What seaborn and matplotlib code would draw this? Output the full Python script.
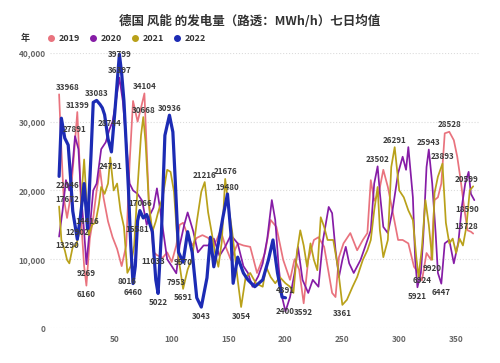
import pandas as pd
import matplotlib.pyplot as plt
import seaborn as sns
from matplotlib.lines import Line2D
from matplotlib.ticker import FuncFormatter

# 七日均值 (MWh/h)
d2019 = [1, 3, 5, 8, 11, 14, 17, 19, 21, 23, 25, 28, 31, 34, 37, 40, 44, 48, 52, 56,
         60, 63, 66, 70, 73, 76, 78, 80, 84, 87, 92, 96, 100, 104, 107, 110, 114, 118, 122, 127,
         132, 137, 140, 143, 147, 152, 158, 163, 169, 175, 182, 187, 192, 198, 204, 208, 212, 216, 220, 225,
         229, 234, 238, 241, 244, 247, 251, 257, 263, 268, 272, 275, 278, 282, 286, 290, 294, 299, 303, 308,
         313, 317, 320, 324, 328, 331, 334, 337, 340, 344, 348, 351, 354, 357, 360, 363, 365]
v2019 = [33968, 26000, 19000, 16000, 19000, 25000, 31399, 24000, 14000, 9000,
         6160, 13000, 16000, 20000, 23000, 19000, 15500, 13200, 11500, 9000,
         12000, 24000, 33000, 30000, 32000, 34104, 26000, 18000, 11033, 10600,
         10200, 11000, 9600, 12000, 15000, 15300, 13500, 12000, 13100, 13500,
         13100, 12000, 13000, 14200, 12000, 9900, 12300, 12000, 11800, 8000,
         10900, 15700, 14700, 9900, 7000, 10000, 8500, 3592, 9900, 12800,
         13200, 11800, 8000, 5100, 4500, 10300, 12300, 13800, 11300, 12800,
         13800, 21500, 18500, 19600, 23000, 20500, 17100, 12800, 12800, 12300,
         8900, 8000, 6924, 10900, 9900, 18600, 19000, 21000, 28300, 28528,
         27300, 24900, 21500, 17600, 14200, 14000, 13728]

d2020 = [1, 4, 7, 10, 13, 15, 18, 20, 23, 25, 28, 31, 34, 38, 42, 45, 48, 51, 54, 57,
         60, 63, 66, 70, 74, 78, 81, 84, 87, 90, 93, 96, 100, 104, 107, 111, 114, 119, 123, 128,
         132, 137, 142, 147, 152, 158, 163, 167, 171, 176, 180, 184, 188, 191, 194, 197, 200, 204, 208, 211,
         215, 220, 224, 229, 233, 238, 241, 244, 247, 250, 253, 256, 260, 266, 270, 275, 278, 281, 283, 286,
         290, 294, 299, 303, 306, 308, 312, 314, 316, 319, 321, 324, 326, 329, 332, 334, 337, 340, 344, 348,
         352, 355, 358, 361, 363, 366]
v2020 = [13290, 17000, 21500, 20000, 24000, 27891, 26000, 20000, 14000, 9269,
         14500, 20000, 21000, 26000, 27000, 28744, 30000, 33000, 36397, 33000,
         27000, 21000, 20000, 19500, 18500, 15000, 16500, 17500, 20300, 17000,
         13500, 10000, 9000, 7953, 12000, 15000, 16800, 14000, 11000, 12000,
         12000, 13000, 10500, 11800, 13500, 12300, 9000, 8000, 6000, 7500,
         9400, 13000, 18600, 15700, 8900, 4500, 2400, 4500, 8000, 11800,
         7000, 5100, 7000, 6000, 12800, 17600, 16700, 11300, 7400, 9900,
         11800, 9400, 8000, 9900, 11800, 14200, 21000, 23502, 19600, 14700,
         13800, 17000, 22500, 24900, 23000, 26300, 19000, 10000, 5921, 8000,
         12800, 23400, 25943, 21000, 13800, 8000, 6447, 12300, 12800, 9400,
         12500, 17600, 21000, 22700, 19500, 18590]

d2021 = [1, 3, 6, 8, 10, 13, 16, 19, 21, 23, 25, 27, 30, 33, 36, 38, 41, 44, 46, 49,
         52, 55, 58, 61, 64, 67, 70, 73, 75, 77, 80, 83, 86, 88, 92, 96, 99, 102, 106, 110,
         114, 118, 122, 126, 129, 132, 135, 138, 141, 144, 147, 150, 153, 156, 158, 161, 165, 169, 174, 180,
         183, 187, 191, 195, 200, 204, 207, 210, 213, 216, 219, 222, 225, 228, 231, 234, 237, 242, 246, 250,
         254, 259, 263, 268, 272, 275, 278, 281, 283, 286, 290, 293, 296, 300, 304, 308, 312, 315, 317, 320,
         323, 326, 329, 331, 334, 338, 341, 344, 347, 350, 353, 356, 359, 362, 365]
v2021 = [17672, 12800, 11300, 9900, 9400, 11800, 12000, 14000, 20000, 24500,
         19000, 13500, 15000, 15300, 18000, 20500, 19500, 21000, 24791, 20000,
         21000, 17000, 14700, 8016, 9000, 12000, 20500, 28000, 30668, 27000,
         17900, 14000, 15500, 16800, 19000, 23000, 22700, 19800, 10200, 5691,
         8500, 10200, 15400, 19800, 21216, 16800, 14000, 11000, 8900, 12500,
         21676, 17600, 14200, 9900, 7000, 3054, 7400, 8000, 6500, 6000,
         8900, 7400, 6500, 7400, 6500, 6000, 5100, 10900, 14200, 12000,
         8900, 12300, 9900, 8400, 16100, 14700, 12800, 12800, 8900, 3361,
         4100, 6000, 7400, 9900, 11300, 12800, 17100, 20500, 14200, 10300,
         12800, 23400, 26291, 20000, 19000, 17100, 15700, 10300, 7400, 11800,
         18600, 15000, 9920, 19600, 22000, 23893, 15300, 12300, 13000, 10900,
         13000, 12000, 14700, 20000, 20599]

d2022 = [1, 3, 6, 9, 11, 13, 17, 20, 23, 26, 29, 31, 34, 37, 39, 41, 44, 47, 50, 54,
         56, 58, 60, 62, 64, 66, 68, 70, 72, 75, 78, 81, 83, 86, 88, 91, 94, 98, 101, 103,
         106, 110, 114, 118, 122, 126, 131, 134, 137, 141, 145, 149, 152, 154, 158, 163, 167, 173, 180, 185,
         189, 193, 197, 200]
v2022 = [22046, 30500, 27600, 26600, 22000, 17000, 12902, 16500, 21000, 14416,
         25000, 32800, 33083, 32500, 32000, 31000, 27500, 25600, 31400, 39799,
         37000, 33000, 26600, 20000, 12000, 6460, 9000, 15581, 17066, 16000,
         16500, 15000, 14000, 7000, 5022, 14000, 28000, 30936, 28500, 21800,
         11000, 9570, 14000, 11000, 4400, 3043, 7300, 13200, 8900, 12300,
         16100, 19480, 13800, 6500, 10300, 8000, 7000, 6000, 7000, 9900,
         12800, 8000, 4500, 4391]

years = [2019, 2020, 2021, 2022]
colors = {2019: '#E9737E', 2020: '#861CA6', 2021: '#B9A11A', 2022: '#1C2BB4'}
widths = {2019: 1.25, 2020: 1.25, 2021: 1.25, 2022: 2.3}

# data labels: text, year, day, side (t = above, b = below, c = on the point)
labels = [
    ('33968', 2019, 1, 't'), ('31399', 2019, 17, 't'), ('6160', 2019, 25, 'b'),
    ('34104', 2019, 76, 't'), ('11033', 2019, 84, 'b'), ('3592', 2019, 216, 'b'),
    ('6924', 2019, 320, 'c'), ('28528', 2019, 344, 't'), ('13728', 2019, 365, 't'),
    ('13290', 2020, 1, 'b'), ('27891', 2020, 15, 't'), ('9269', 2020, 25, 'b'),
    ('28744', 2020, 45, 't'), ('36397', 2020, 54, 't'), ('7953', 2020, 104, 'b'),
    ('2400', 2020, 200, 'c'), ('23502', 2020, 281, 't'), ('5921', 2020, 316, 'b'),
    ('25943', 2020, 326, 't'), ('6447', 2020, 337, 'b'), ('18590', 2020, 366, 'b'),
    ('17672', 2021, 1, 't'), ('24791', 2021, 46, 'b'), ('8016', 2021, 61, 'b'),
    ('30668', 2021, 75, 't'), ('5691', 2021, 110, 'b'), ('21216', 2021, 129, 't'),
    ('21676', 2021, 147, 't'), ('3054', 2021, 161, 'b'), ('3361', 2021, 250, 'b'),
    ('26291', 2021, 296, 't'), ('9920', 2021, 329, 'b'), ('23893', 2021, 338, 't'),
    ('20599', 2021, 365, 't'),
    ('22046', 2022, 1, 'b'), ('12902', 2022, 17, 't'), ('14416', 2022, 26, 't'),
    ('33083', 2022, 34, 't'), ('39799', 2022, 54, 'c'), ('6460', 2022, 66, 'b'),
    ('15581', 2022, 70, 'b'), ('17066', 2022, 72, 't'), ('5022', 2022, 88, 'b'),
    ('30936', 2022, 98, 't'), ('9570', 2022, 110, 'c'), ('3043', 2022, 126, 'b'),
    ('19480', 2022, 149, 't'), ('4391', 2022, 200, 't'),
]

series = {2019: (d2019, v2019), 2020: (d2020, v2020), 2021: (d2021, v2021), 2022: (d2022, v2022)}
df = pd.concat([pd.DataFrame({'day': d, 'value': v, 'year': y}) for y, (d, v) in series.items()],
               ignore_index=True)

sns.set_theme(style='white')
plt.rcParams['font.family'] = ['Noto Sans CJK SC', 'DejaVu Sans']

fig = plt.figure(figsize=(5, 3.63), dpi=100)
ax = fig.add_axes([0.10, 0.0964, 0.86, 0.758])

for y in years:
    sns.lineplot(data=df[df['year'] == y], x='day', y='value', color=colors[y],
                 linewidth=widths[y], estimator=None, sort=False, legend=False, ax=ax)

for txt, y, day, side in labels:
    dy = {'t': 5, 'b': -6.5, 'c': 0}[side]
    dx = 6 if day <= 3 else (-5 if day >= 364 else 0)
    ax.annotate(txt, (day, int(txt)), xytext=(dx, dy), textcoords='offset points',
                ha='center', va='center', fontsize=5.8, fontweight='bold',
                color='#3c3c3c', annotation_clip=False)

ax.set_xlim(-7, 371)
ax.set_ylim(0, 40000)
ax.set_xticks([50, 100, 150, 200, 250, 300, 350])
ax.set_yticks([0, 10000, 20000, 30000, 40000])
ax.yaxis.set_major_formatter(FuncFormatter(lambda v, p: f'{int(v):,}'))
ax.tick_params(axis='both', length=0, labelsize=6, labelcolor='#666666')
ax.tick_params(axis='x', pad=5)
ax.tick_params(axis='y', pad=3)
for lbl in ax.get_xticklabels() + ax.get_yticklabels():
    lbl.set_fontweight('bold')
ax.set_xlabel('')
ax.set_ylabel('')
ax.grid(axis='y', color='#dcdcdc', linestyle=':', linewidth=0.8)
ax.grid(axis='x', visible=False)
sns.despine(ax=ax, left=True, bottom=True)

fig.text(0.5, 0.94, '德国 风能 的发电量（路透：MWh/h）七日均值', ha='center', va='center',
         fontsize=9, fontweight='bold', color='#333333')
fig.text(0.05, 0.893, '年', ha='center', va='center', fontsize=6.5,
         fontweight='bold', color='#333333')
handles = [Line2D([], [], marker='o', linestyle='', markersize=4, color=colors[y]) for y in years]
leg = fig.legend(handles, [str(y) for y in years], loc='center left', bbox_to_anchor=(0.068, 0.893),
                 ncol=4, frameon=False, handletextpad=-0.2, columnspacing=0.5,
                 prop={'size': 6.5, 'weight': 'bold'})
for t in leg.get_texts():
    t.set_color('#333333')

fig.savefig('out.png', dpi=100)
